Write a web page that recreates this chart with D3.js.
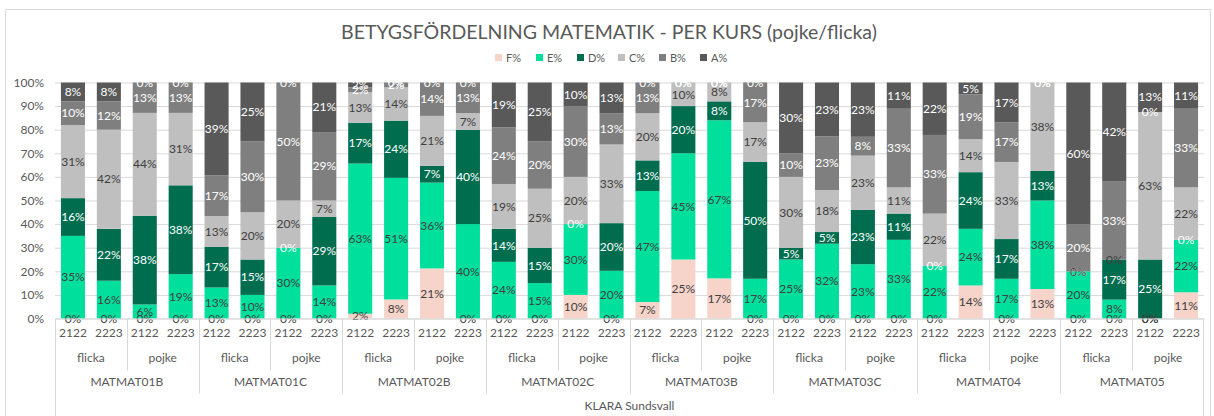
<!DOCTYPE html>
<html>
<head>
<meta charset="utf-8">
<script src="https://cdn.jsdelivr.net/npm/d3@7"></script>
<style>
  body { margin: 0; background: #fff; }
  text { font-family: "Lato", "Liberation Sans", sans-serif; fill: #595959; }
</style>
</head>
<body>
<script>
// categories
var courses = ["MATMAT01B", "MATMAT01C", "MATMAT02B", "MATMAT02C", "MATMAT03B", "MATMAT03C", "MATMAT04", "MATMAT05"];
var genders = ["flicka", "pojke"];
var years = ["2122", "2223"];
var grades = ["F%", "E%", "D%", "C%", "B%", "A%"];
var school = "KLARA Sundsvall";
var yTicks = [0, 0.1, 0.2, 0.3, 0.4, 0.5, 0.6, 0.7, 0.8, 0.9, 1];

// values per grade, bar order: course > gender > year
var F = [0,0,0,0,  0,0,0,0,  2,8,21,0,  0,0,10,0,  7,25,17,0,  0,0,0,0,  0,14,0,12.5,  0,0,0,11];
var E = [35,16,6,19,  13,10,30,14,  63,51,36,40,  24,15,30,20,  47,45,67,17,  25,32,23,33,  22,24,17,37.5,  20,8,0,22];
var D = [16,22,38,38,  17,15,0,29,  17,24,7,40,  14,15,0,20,  13,20,8,50,  5,5,23,11,  0,24,17,12.5,  0,17,25,0];
var C = [31,42,44,31,  13,20,20,7,  13,14,21,7,  19,25,20,33,  20,10,8,17,  30,18,23,11,  22,14,33,37.5,  0,0,62.5,22];
var B = [10,12,13,13,  17,30,50,29,  2,2,14,13,  24,20,30,13,  13,0,0,17,  10,23,8,33,  33,19,17,0,  20,33,0,33];
var A = [8,8,0,0,  39,25,0,21,  2,0,0,0,  19,25,10,13,  0,0,0,0,  30,23,23,11,  22,5,17,0,  60,42,12.5,11];

var colors = ["#f6d4ca", "#00df9c", "#006d4f", "#bfbfbf", "#7f7f7f", "#595959"];
var labelColors = ["#404040", "#404040", "#ffffff", "#404040", "#ffffff", "#ffffff"];

var W = 1214, H = 416;
var margin = {top: 82.5, left: 55, right: 10, bottom: 97.5};
var width = W - margin.left - margin.right,
    height = H - margin.top - margin.bottom;

// build the rows
var series = [F, E, D, C, B, A];
var rows = [];
var i = 0;
courses.forEach(function(c) {
  genders.forEach(function(g) {
    years.forEach(function(y) {
      var r = {key: c + "|" + g + "|" + y, course: c, gender: g, year: y};
      grades.forEach(function(gr, k) { r[gr] = series[k][i]; });
      rows.push(r);
      i++;
    });
  });
});

var svg = d3.select("body").append("svg")
  .attr("width", W)
  .attr("height", H);

// chart border
svg.append("rect")
  .attr("x", 5.5).attr("y", 9.5)
  .attr("width", W - 9).attr("height", H)
  .attr("fill", "none")
  .attr("stroke", "#d9d9d9");

svg.append("text")
  .attr("x", W / 2 + 2)
  .attr("y", 39)
  .attr("text-anchor", "middle")
  .style("font-size", "19.5px")
  .text("BETYGSFÖRDELNING MATEMATIK - PER KURS (pojke/flicka)");

// legend
var legend = svg.selectAll(".legend")
  .data(grades)
  .enter().append("g")
  .attr("class", "legend")
  .attr("transform", function(d, i) { return "translate(" + (495 + i * 41) + ",58)"; });

legend.append("rect")
  .attr("x", 0).attr("y", -4)
  .attr("width", 7).attr("height", 7)
  .attr("fill", function(d, i) { return colors[i]; });

legend.append("text")
  .attr("x", 11)
  .attr("dy", "0.35em")
  .style("font-size", "11px")
  .text(function(d) { return d; });

var g = svg.append("g")
  .attr("transform", "translate(" + margin.left + "," + margin.top + ")");

var x = d3.scaleBand()
  .domain(rows.map(function(d) { return d.key; }))
  .range([0, width])
  .paddingInner(0.33)
  .paddingOuter(0.165);

var y = d3.scaleLinear()
  .domain([0, 1])
  .range([height, 0]);

// gridlines + y labels
var yAxis = g.append("g")
  .call(d3.axisLeft(y).tickValues(yTicks).tickFormat(d3.format(".0%")).tickSize(-width).tickPadding(11));
yAxis.select(".domain").remove();
yAxis.selectAll("line").attr("stroke", "#d9d9d9");
yAxis.selectAll("text").style("font-size", "12px").attr("fill", "#595959");

// 100% stacked bars
var stack = d3.stack().keys(grades).offset(d3.stackOffsetExpand);
var stacked = stack(rows);

var layers = g.selectAll(".layer")
  .data(stacked)
  .enter().append("g")
  .attr("class", "layer")
  .attr("fill", function(d, i) { return colors[i]; });

layers.selectAll("rect")
  .data(function(d) { return d; })
  .enter().append("rect")
  .attr("x", function(d) { return x(d.data.key); })
  .attr("width", x.bandwidth())
  .attr("y", function(d) { return y(d[1]); })
  .attr("height", function(d) { return y(d[0]) - y(d[1]); });

// data labels
var fmt = d3.format(".0f");
stacked.forEach(function(layer, k) {
  g.append("g").selectAll("text")
    .data(layer)
    .enter().append("text")
    .attr("x", function(d) { return x(d.data.key) + x.bandwidth() / 2; })
    .attr("y", function(d) { return y((d[0] + d[1]) / 2); })
    .attr("dy", "0.35em")
    .attr("text-anchor", "middle")
    .style("font-size", "12px")
    .style("fill", labelColors[k])
    .text(function(d) { return fmt(d.data[grades[k]]) + "%"; });
});

// x axis: years
var xAxis = g.append("g")
  .attr("transform", "translate(0," + height + ")")
  .call(d3.axisBottom(x).tickSize(0).tickPadding(10).tickFormat(function(d) { return d.split("|")[2]; }));
xAxis.select(".domain").attr("stroke", "#d9d9d9");
xAxis.selectAll("text").style("font-size", "12px").attr("fill", "#595959");

// separators + group labels
var step = x.step();
var x0 = function(key) { return x(key) - x.paddingInner() * step / 2; };
var lev = g.append("g").attr("transform", "translate(0," + height + ")");

rows.forEach(function(d, i) {
  if (i % 2 == 0) {
    var depth = (i % 4 == 0) ? 75 : 52;
    if (i == 0) depth = 110;
    lev.append("line")
      .attr("x1", Math.round(x0(d.key)) + 0.5).attr("x2", Math.round(x0(d.key)) + 0.5)
      .attr("y1", 0).attr("y2", depth)
      .attr("stroke", "#d9d9d9");
  }
});
lev.append("line")
  .attr("x1", width - 0.5).attr("x2", width - 0.5)
  .attr("y1", 0).attr("y2", 110)
  .attr("stroke", "#d9d9d9");

// gender labels
rows.forEach(function(d, i) {
  if (i % 2 == 0) {
    lev.append("text")
      .attr("x", x0(d.key) + step)
      .attr("y", 39)
      .attr("dy", "0.35em")
      .attr("text-anchor", "middle")
      .style("font-size", "12px")
      .text(d.gender);
  }
  if (i % 4 == 0) {
    lev.append("text")
      .attr("x", x0(d.key) + 2 * step)
      .attr("y", 63)
      .attr("dy", "0.35em")
      .attr("text-anchor", "middle")
      .style("font-size", "12px")
      .text(d.course);
  }
});

lev.append("text")
  .attr("x", width / 2)
  .attr("y", 87)
  .attr("dy", "0.35em")
  .attr("text-anchor", "middle")
  .style("font-size", "12px")
  .text(school);
</script>
</body>
</html>
